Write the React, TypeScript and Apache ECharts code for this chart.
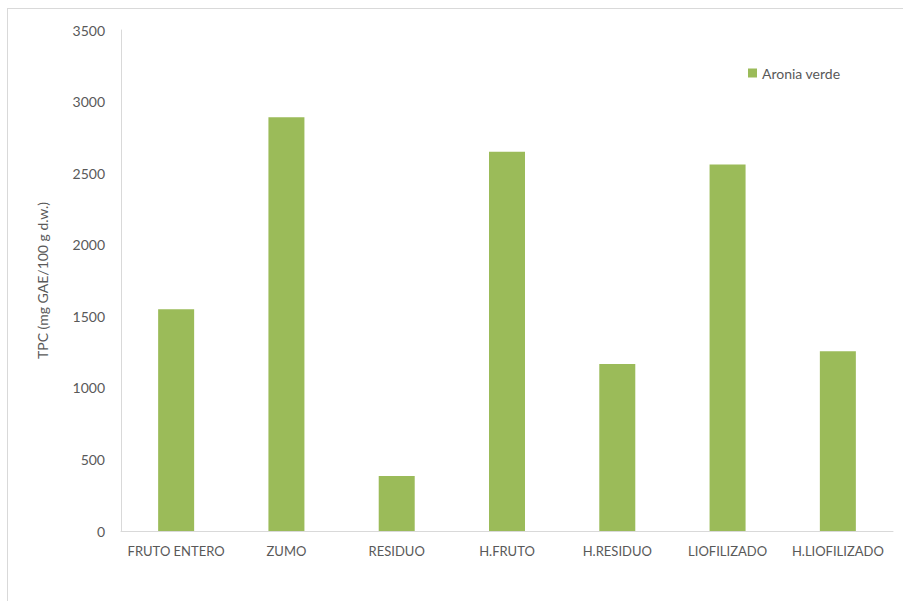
import React, { useEffect, useRef } from "react";
import * as echarts from "echarts";

const categories = ["FRUTO ENTERO", "ZUMO", "RESIDUO", "H.FRUTO", "H.RESIDUO", "LIOFILIZADO", "H.LIOFILIZADO"];
const aroniaVerde = [1550, 2890, 385, 2650, 1167, 2560, 1255];
const seriesName = "Aronia verde";
const yAxisTitle = "TPC (mg GAE/100 g d.w.)";

export default function App() {
  const ref = useRef<HTMLDivElement>(null);
  useEffect(() => {
    if (!ref.current) return;
    const chart = echarts.init(ref.current, undefined, { renderer: "svg" });
    const font = "Lato, 'Open Sans', sans-serif";
    chart.setOption({
      animation: false,
      backgroundColor: "#ffffff",
      textStyle: { fontFamily: font },
      grid: { left: 113, top: 21, width: 772, height: 501, containLabel: false },
      legend: {
        data: [seriesName],
        left: 735,
        top: 52,
        icon: "rect",
        itemWidth: 9,
        itemHeight: 9,
        itemGap: 4,
        textStyle: { color: "#595959", fontSize: 14, fontFamily: font },
      },
      xAxis: {
        type: "category",
        data: categories,
        axisLine: { lineStyle: { color: "#d9d9d9", width: 1 } },
        axisTick: { show: false },
        axisLabel: { color: "#595959", fontSize: 13, margin: 13, fontFamily: font, interval: 0 },
      },
      yAxis: {
        type: "value",
        min: 0,
        max: 3500,
        interval: 500,
        name: yAxisTitle,
        nameLocation: "middle",
        nameGap: 72,
        nameTextStyle: { color: "#595959", fontSize: 14, fontFamily: font },
        axisLine: { show: true, lineStyle: { color: "#d9d9d9", width: 1 } },
        axisTick: { show: false },
        splitLine: { show: false },
        axisLabel: {
          color: "#595959",
          fontSize: 14,
          margin: 16,
          fontFamily: font,
          formatter: (v: number) => String(v),
        },
      },
      series: [
        {
          name: seriesName,
          type: "bar",
          data: aroniaVerde,
          barWidth: 36,
          itemStyle: { color: "#9bbb59" },
        },
      ],
    });
    return () => chart.dispose();
  }, []);
  return (
    <div
      style={{
        position: "fixed",
        left: 7,
        top: 8,
        width: 920,
        height: 620,
        border: "1px solid #d9d9d9",
        background: "#fff",
      }}
    >
      <div ref={ref} style={{ width: 920, height: 620 }} />
    </div>
  );
}
